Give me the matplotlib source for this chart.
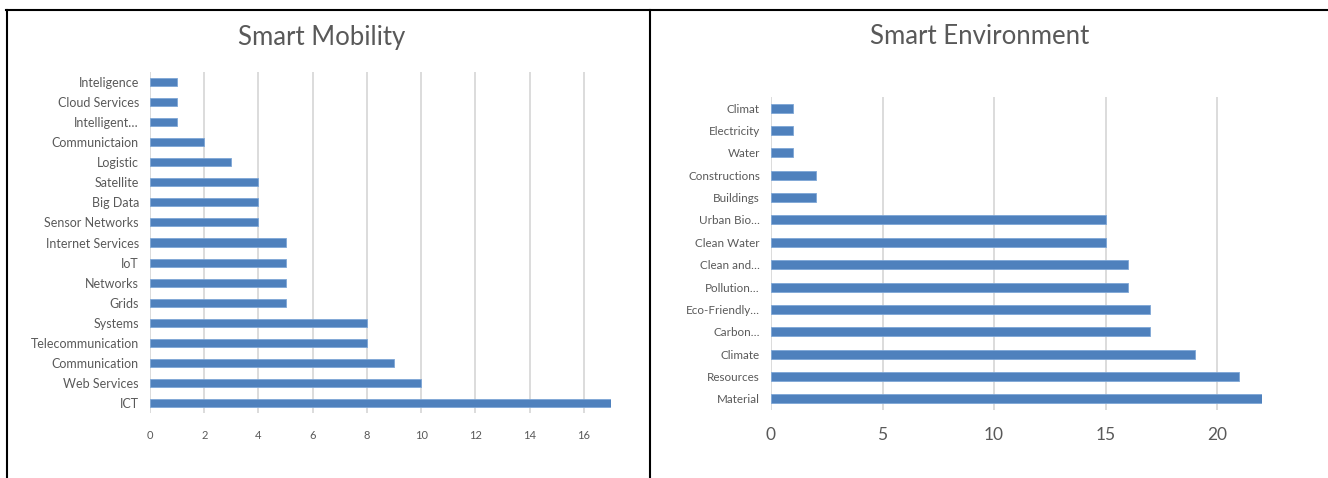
import matplotlib
matplotlib.use("Agg")
import matplotlib.pyplot as plt
from matplotlib.lines import Line2D

mob_labels = ["Inteligence", "Cloud Services", "Intelligent…", "Communictaion", "Logistic",
              "Satellite", "Big Data", "Sensor Networks", "Internet Services", "IoT",
              "Networks", "Grids", "Systems", "Telecommunication", "Communication",
              "Web Services", "ICT"]
mob_values = [1, 1, 1, 2, 3, 4, 4, 4, 5, 5, 5, 5, 8, 8, 9, 10, 17]
mob_ticks = [0, 2, 4, 6, 8, 10, 12, 14, 16]

env_labels = ["Climat", "Electricity", "Water", "Constructions", "Buildings", "Urban Bio…",
              "Clean Water", "Clean and…", "Pollution…", "Eco-Friendly…", "Carbon…",
              "Climate", "Resources", "Material"]
env_values = [1, 1, 1, 2, 2, 15, 15, 16, 16, 17, 17, 19, 21, 22]
env_ticks = [0, 5, 10, 15, 20]

W, H = 1328, 478
fig = plt.figure(figsize=(W / 100, H / 100), dpi=100)
plt.rcParams['font.family'] = ['Lato', 'DejaVu Sans']

BAR = "#4F81BD"
GRID = "#D9D9D9"
TXT = "#595959"


def px_axes(x0, y0, x1, y1):
    return fig.add_axes([x0 / W, 1 - y1 / H, (x1 - x0) / W, (y1 - y0) / H])


def draw(ax, labels, values, ticks, xmax, ylab_fs, xtick_fs, ypad, title, title_x, title_y):
    n = len(labels)
    pos = list(range(n))
    ax.barh(pos, values, height=0.4, color=BAR, edgecolor="#7EA6D6", linewidth=0.6, zorder=3)
    ax.set_ylim(n - 0.5, -0.5)
    ax.set_xlim(0, xmax)
    ax.set_yticks(pos)
    ax.set_yticklabels(labels, fontsize=ylab_fs, color=TXT)
    ax.set_xticks(ticks)
    ax.set_xticklabels([str(t) for t in ticks], fontsize=xtick_fs, color=TXT)
    ax.tick_params(axis="both", length=0)
    ax.tick_params(axis="y", pad=ypad)
    ax.tick_params(axis="x", pad=12)
    for s in ax.spines.values():
        s.set_visible(False)
    for t in ticks:
        ax.axvline(t, color=GRID, linewidth=1.3, zorder=1)
    ax.set_facecolor("none")
    fig.text(title_x / W, 1 - title_y / H, title, ha="center", va="center",
             fontsize=18.5, color=TXT)


ax1 = px_axes(150, 72, 611, 413)
draw(ax1, mob_labels, mob_values, mob_ticks, 17, 9.0, 8, 8, "Smart Mobility", 322, 37)

ax2 = px_axes(771, 97, 1261.6, 410)
draw(ax2, env_labels, env_values, env_ticks, 22, 8.4, 12.5, 8, "Smart Environment", 980, 36)

# table borders
lw = 1.5
fig.add_artist(Line2D([6 / W, 1], [1 - 10 / H, 1 - 10 / H], color="black", linewidth=lw,
                      transform=fig.transFigure))
fig.add_artist(Line2D([7 / W, 7 / W], [0, 1 - 10 / H], color="black", linewidth=lw,
                      transform=fig.transFigure))
fig.add_artist(Line2D([650 / W, 650 / W], [0, 1 - 10 / H], color="black", linewidth=lw,
                      transform=fig.transFigure))

fig.savefig("out.png", dpi=100)
